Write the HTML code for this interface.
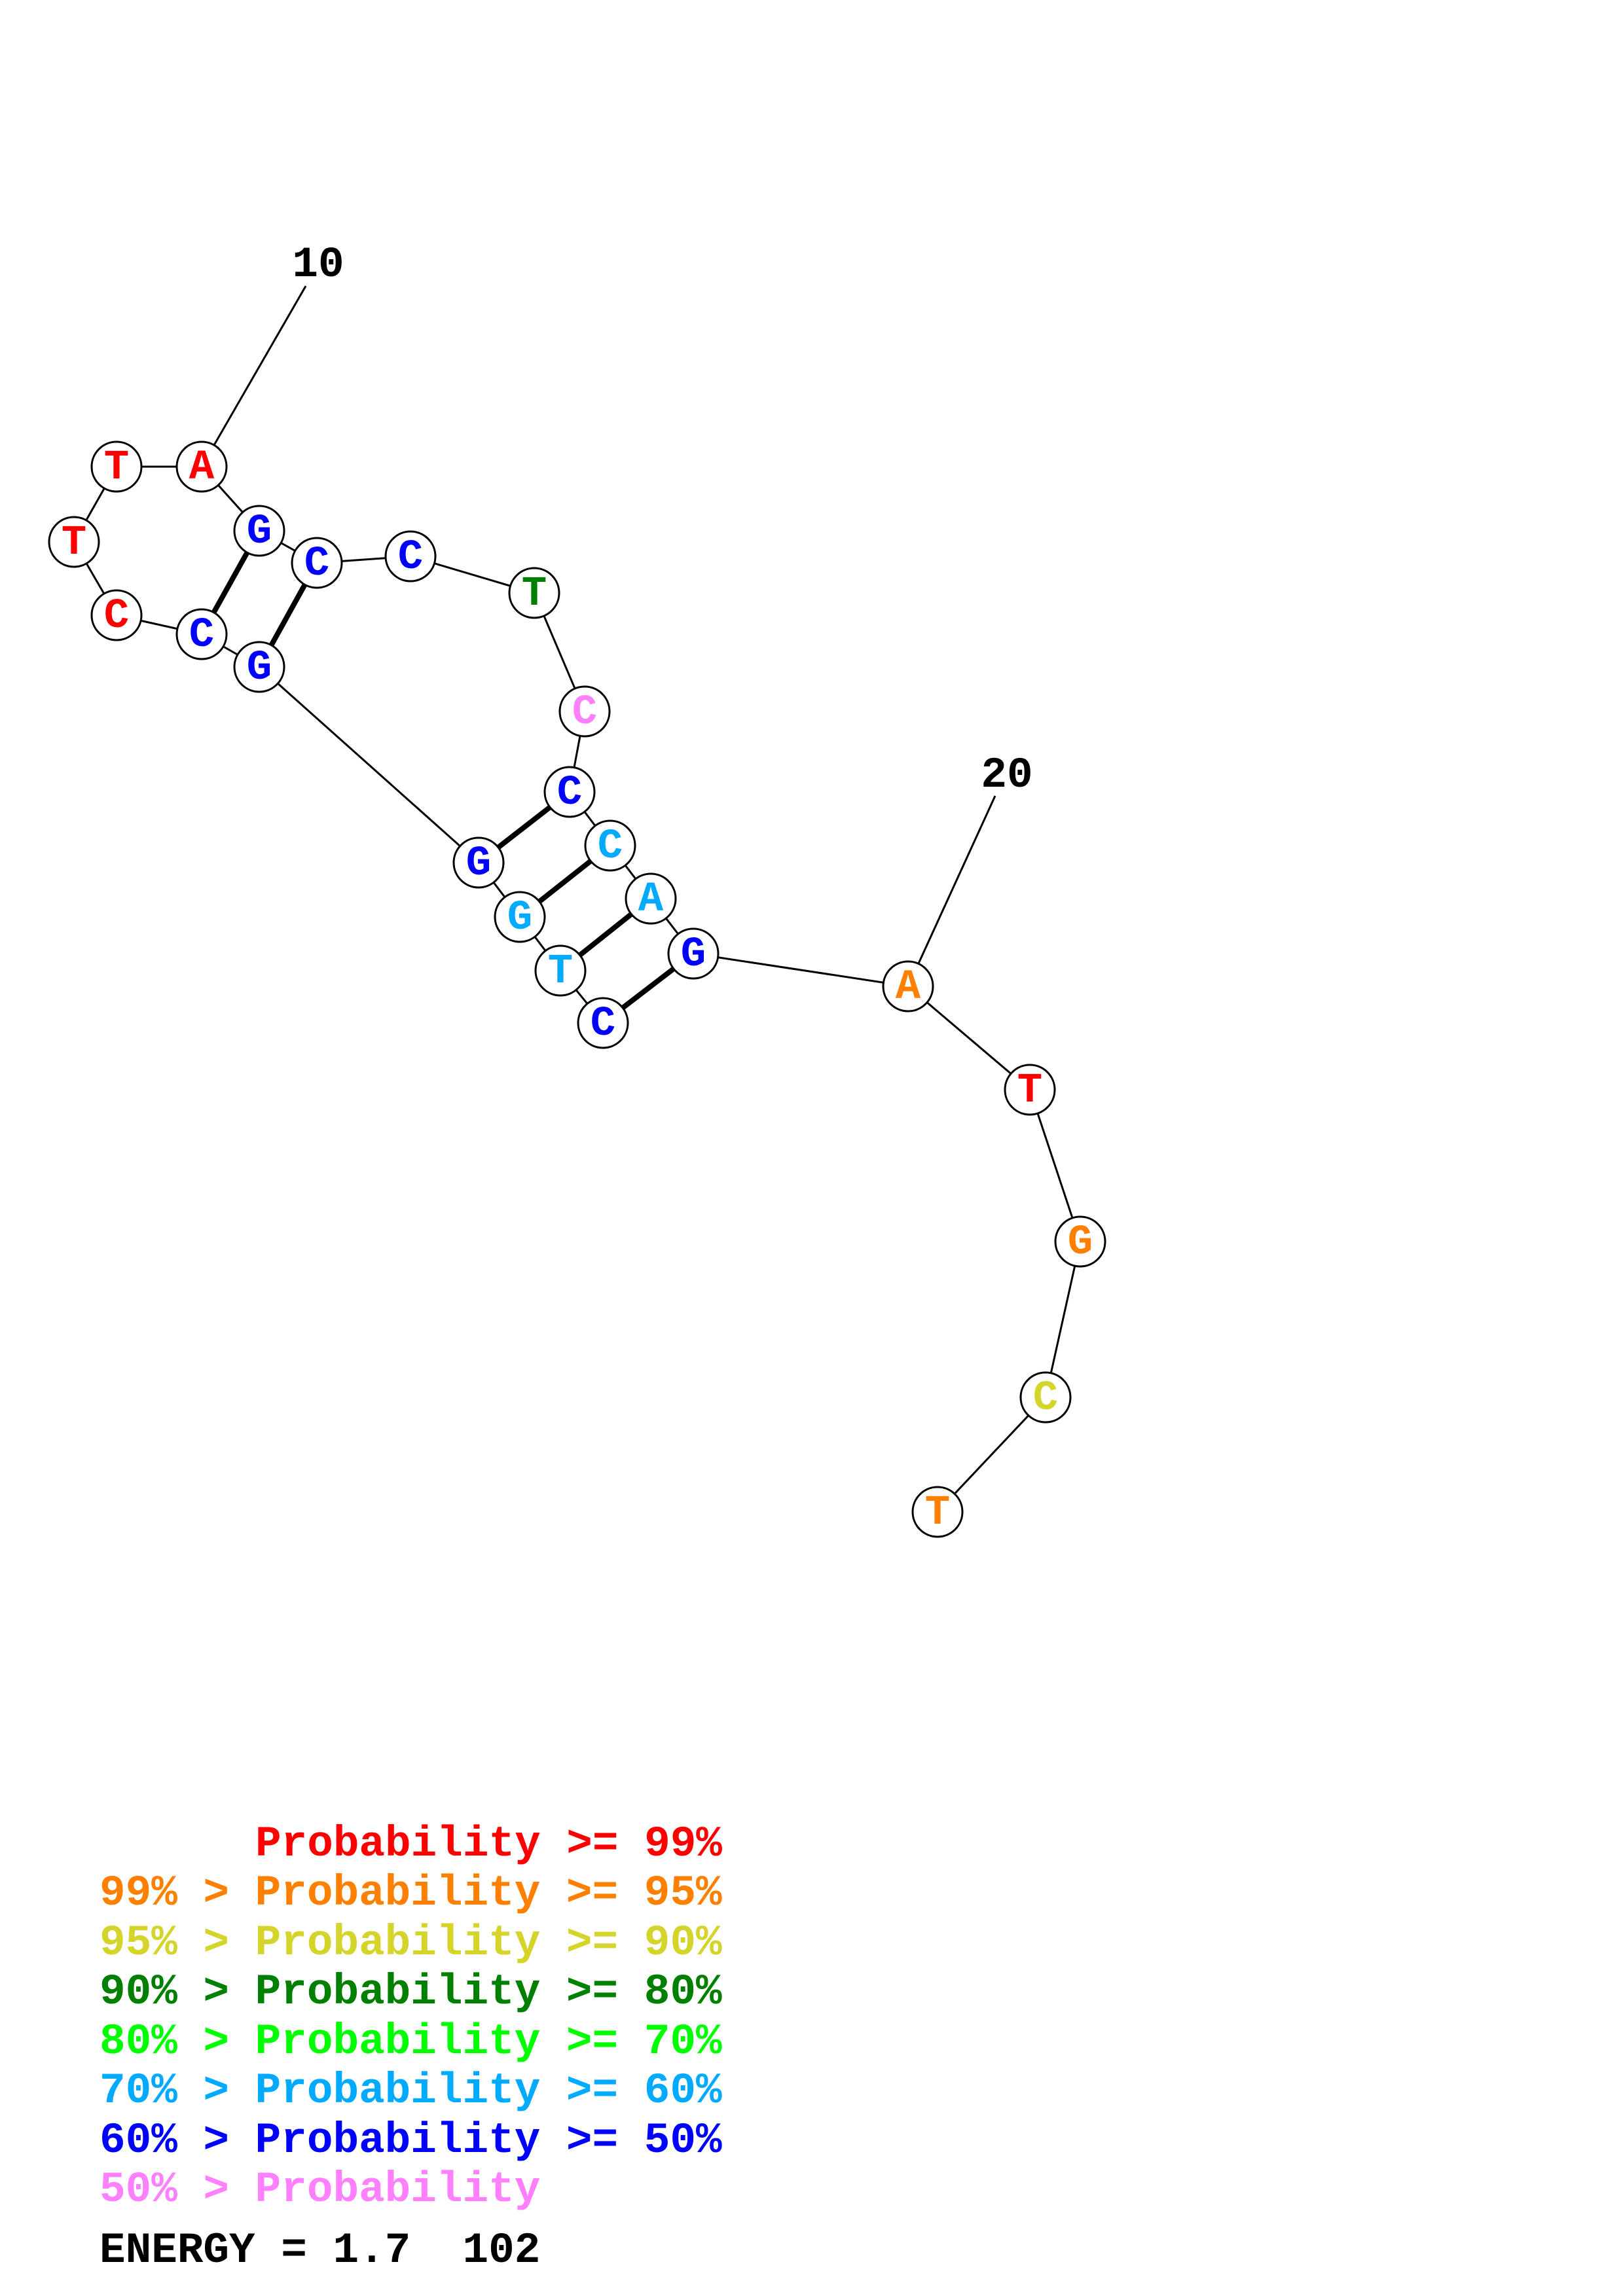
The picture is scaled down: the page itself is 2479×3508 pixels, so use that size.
<!DOCTYPE html>
<html><head><meta charset="utf-8"><style>
html,body{margin:0;padding:0;background:#fff;}
svg{display:block;}
.n{font-family:"Liberation Mono",monospace;font-weight:bold;font-size:64px;text-anchor:middle;dominant-baseline:central;}
.lg{font-family:"Liberation Mono",monospace;font-weight:bold;font-size:66px;}
</style></head><body>
<svg width="2479" height="3508" viewBox="0 0 2479 3508" xmlns="http://www.w3.org/2000/svg">
<g transform="translate(-3,-8)">
<g stroke="#000" stroke-width="3" fill="none">
<polyline points="924,1571 859,1491 797,1409 734,1326 399,1027 311,977 181,948 116,836 181,721 311,721 399,819 487,868 630,858 819,914 896,1095 873,1218 935,1300 997,1381 1062,1465 1390,1515 1576,1673 1653,1905 1600,2143 1435,2318"/>
<line x1="311" y1="721" x2="470" y2="445"/>
<line x1="1390" y1="1515" x2="1523" y2="1224"/>
</g>
<g stroke="#000" stroke-width="8">
<line x1="399" y1="819" x2="311" y2="977"/>
<line x1="487" y1="868" x2="399" y2="1027"/>
<line x1="873" y1="1218" x2="734" y2="1326"/>
<line x1="935" y1="1300" x2="797" y2="1409"/>
<line x1="997" y1="1381" x2="859" y2="1491"/>
<line x1="1062" y1="1465" x2="924" y2="1571"/>
</g>
<g stroke="#000" stroke-width="3" fill="#fff">
<circle cx="181" cy="721" r="38"/><circle cx="311" cy="721" r="38"/>
<circle cx="116" cy="836" r="38"/><circle cx="181" cy="948" r="38"/>
<circle cx="311" cy="977" r="38"/><circle cx="399" cy="819" r="38"/>
<circle cx="487" cy="868" r="38"/><circle cx="399" cy="1027" r="38"/>
<circle cx="630" cy="858" r="38"/><circle cx="819" cy="914" r="38"/>
<circle cx="896" cy="1095" r="38"/><circle cx="873" cy="1218" r="38"/>
<circle cx="935" cy="1300" r="38"/><circle cx="997" cy="1381" r="38"/>
<circle cx="1062" cy="1465" r="38"/><circle cx="734" cy="1326" r="38"/>
<circle cx="797" cy="1409" r="38"/><circle cx="859" cy="1491" r="38"/>
<circle cx="924" cy="1571" r="38"/>
<circle cx="1390" cy="1515" r="38"/><circle cx="1576" cy="1673" r="38"/>
<circle cx="1653" cy="1905" r="38"/><circle cx="1600" cy="2143" r="38"/>
<circle cx="1435" cy="2318" r="38"/>
</g>
<g class="n">
<text x="181" y="723" fill="#ff0000">T</text>
<text x="311" y="723" fill="#ff0000">A</text>
<text x="116" y="838" fill="#ff0000">T</text>
<text x="181" y="950" fill="#ff0000">C</text>
<text x="311" y="979" fill="#0000ff">C</text>
<text x="399" y="821" fill="#0000ff">G</text>
<text x="487" y="870" fill="#0000ff">C</text>
<text x="399" y="1029" fill="#0000ff">G</text>
<text x="630" y="860" fill="#0000ff">C</text>
<text x="819" y="916" fill="#008000">T</text>
<text x="896" y="1097" fill="#ff80ff">C</text>
<text x="873" y="1220" fill="#0000ff">C</text>
<text x="935" y="1302" fill="#00aaff">C</text>
<text x="997" y="1383" fill="#00aaff">A</text>
<text x="1062" y="1467" fill="#0000ff">G</text>
<text x="734" y="1328" fill="#0000ff">G</text>
<text x="797" y="1411" fill="#00aaff">G</text>
<text x="859" y="1493" fill="#00aaff">T</text>
<text x="924" y="1573" fill="#0000ff">C</text>
<text x="1390" y="1517" fill="#ff8000">A</text>
<text x="1576" y="1675" fill="#ff0000">T</text>
<text x="1653" y="1907" fill="#ff8000">G</text>
<text x="1600" y="2145" fill="#d4d42a">C</text>
<text x="1435" y="2320" fill="#ff8000">T</text>
</g>
<text class="lg" x="489" y="430" text-anchor="middle" fill="#000">10</text>
<text class="lg" x="1541" y="1210" text-anchor="middle" fill="#000">20</text>
</g>
<g class="lg">
<text x="390" y="2835" fill="#ff0000">Probability &gt;= 99%</text>
<text x="152" y="2910" fill="#ff8000">99% &gt; Probability &gt;= 95%</text>
<text x="152" y="2986" fill="#d4d42a">95% &gt; Probability &gt;= 90%</text>
<text x="152" y="3061" fill="#008000">90% &gt; Probability &gt;= 80%</text>
<text x="152" y="3137" fill="#00ff00">80% &gt; Probability &gt;= 70%</text>
<text x="152" y="3212" fill="#00aaff">70% &gt; Probability &gt;= 60%</text>
<text x="152" y="3288" fill="#0000ff">60% &gt; Probability &gt;= 50%</text>
<text x="152" y="3363" fill="#ff80ff">50% &gt; Probability</text>
<text x="152" y="3456" fill="#000">ENERGY = 1.7&#160;&#160;102</text>
</g>
</svg>
</body></html>
